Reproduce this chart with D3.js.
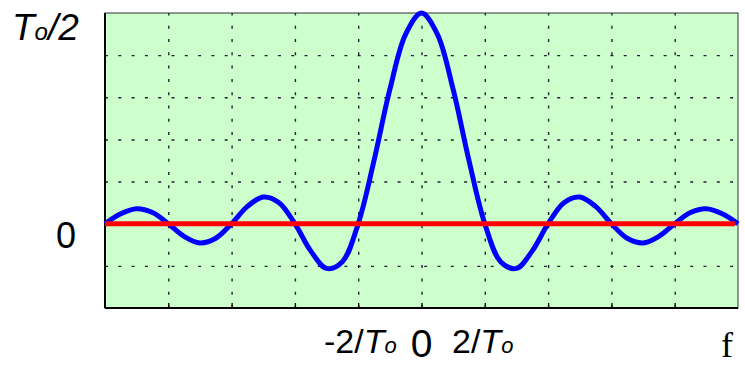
<!DOCTYPE html>
<html>
<head>
<meta charset="utf-8">
<script src="https://cdn.jsdelivr.net/npm/d3@7"></script>
<style>
  body { margin: 0; background: #fff; }
  svg { display: block; font-family: "Liberation Sans", Arial, sans-serif; }
</style>
</head>
<body>
<svg width="745" height="365"></svg>
<script>
// Espectro sinc: amplitude em unidades de To/2, frequência em unidades de 2/To
const freqs = [-5, -4.75, -4.5, -4.25, -4, -3.75, -3.5, -3.25, -3, -2.75, -2.5, -2.25, -2, -1.75, -1.5, -1.25, -1, -0.75, -0.5, -0.25,
  0, 0.25, 0.5, 0.75, 1, 1.25, 1.5, 1.75, 2, 2.25, 2.5, 2.75, 3, 3.25, 3.5, 3.75, 4, 4.25, 4.5, 4.75, 5];
const amps = [0, 0.047, 0.071, 0.053, 0, -0.06, -0.091, -0.069, 0, 0.082, 0.127, 0.1, 0, -0.129, -0.212, -0.18, 0, 0.3, 0.637, 0.9,
  1, 0.9, 0.637, 0.3, 0, -0.18, -0.212, -0.129, 0, 0.1, 0.127, 0.082, 0, -0.069, -0.091, -0.06, 0, 0.053, 0.071, 0.047, 0];
const xGrid = [-4, -3, -2, -1, 0, 1, 2, 3, 4];
const yGrid = [-0.2, 0.2, 0.4, 0.6, 0.8];

const svg = d3.select("svg");
const margin = { top: 13, right: 7, bottom: 57, left: 105 };
const W = 745 - margin.left - margin.right;
const H = 365 - margin.top - margin.bottom;
const g = svg.append("g").attr("transform", `translate(${margin.left},${margin.top})`);

const x = d3.scaleLinear().domain([-5, 5]).range([0, W]);
const y = d3.scaleLinear().domain([-0.4, 1]).range([H, 0]);

g.append("rect").attr("width", W).attr("height", H).attr("fill", "#ccffcc");

// grade tracejada
g.append("g").attr("transform", `translate(0,${H})`)
  .call(d3.axisBottom(x).tickValues(xGrid).tickSize(-H).tickFormat(""))
  .call((a) => a.select(".domain").remove())
  .selectAll("line").attr("stroke", "#223").attr("stroke-width", 1.4).attr("stroke-dasharray", "3,10.3");
g.append("g")
  .call(d3.axisLeft(y).tickValues(yGrid).tickSize(-W).tickFormat(""))
  .call((a) => a.select(".domain").remove())
  .selectAll("line").attr("stroke", "#223").attr("stroke-width", 1.4).attr("stroke-dasharray", "3,10.3");

// pequenos ticks no eixo inferior
g.append("g").attr("transform", `translate(0,${H})`)
  .call(d3.axisBottom(x).tickValues(xGrid).tickSize(-5).tickFormat(""))
  .call((a) => a.select(".domain").remove())
  .selectAll("line").attr("stroke", "#000").attr("stroke-width", 1.3);

// moldura
g.append("rect").attr("width", W).attr("height", H).attr("fill", "none")
  .attr("stroke", "#333").attr("stroke-width", 1);
g.append("line").attr("x1", 0).attr("x2", 0).attr("y1", 0).attr("y2", H).attr("stroke", "#000").attr("stroke-width", 2);
g.append("line").attr("x1", 0).attr("x2", W).attr("y1", H).attr("y2", H).attr("stroke", "#000").attr("stroke-width", 2);

// curva sinc
const pts = freqs.map((f, i) => [f, amps[i]]);
g.append("path").datum(pts)
  .attr("d", d3.line().x((d) => x(d[0])).y((d) => y(d[1])).curve(d3.curveCatmullRom))
  .attr("fill", "none").attr("stroke", "#0000ff").attr("stroke-width", 5)
  .attr("stroke-linejoin", "round");

// linha do zero
g.append("line").attr("x1", x(-5)).attr("x2", x(4.95)).attr("y1", y(0)).attr("y2", y(0))
  .attr("stroke", "#ff0000").attr("stroke-width", 5);

// rótulos
const topLabel = svg.append("text").attr("x", 12).attr("y", 40).style("font-size", "37px").style("font-style", "italic");
topLabel.append("tspan").text("T");
topLabel.append("tspan").style("font-size", "24px").text("o");
topLabel.append("tspan").text("/2");

svg.append("text").attr("x", 56).attr("y", 248).style("font-size", "36px").text("0");

const lm = svg.append("text").attr("x", 324).attr("y", 353).style("font-size", "34px");
lm.append("tspan").text("-2/");
lm.append("tspan").style("font-style", "italic").text("T");
lm.append("tspan").style("font-style", "italic").style("font-size", "22px").text("o");

svg.append("text").attr("x", x(0) + margin.left).attr("y", 357).attr("text-anchor", "middle")
  .style("font-size", "39px").text("0");

const lp = svg.append("text").attr("x", 452).attr("y", 353).style("font-size", "34px");
lp.append("tspan").text("2/");
lp.append("tspan").style("font-style", "italic").text("T");
lp.append("tspan").style("font-style", "italic").style("font-size", "22px").text("o");

svg.append("text").attr("x", 721).attr("y", 357).style("font-family", "'Liberation Serif', serif")
  .style("font-size", "36px").text("f");
</script>
</body>
</html>
